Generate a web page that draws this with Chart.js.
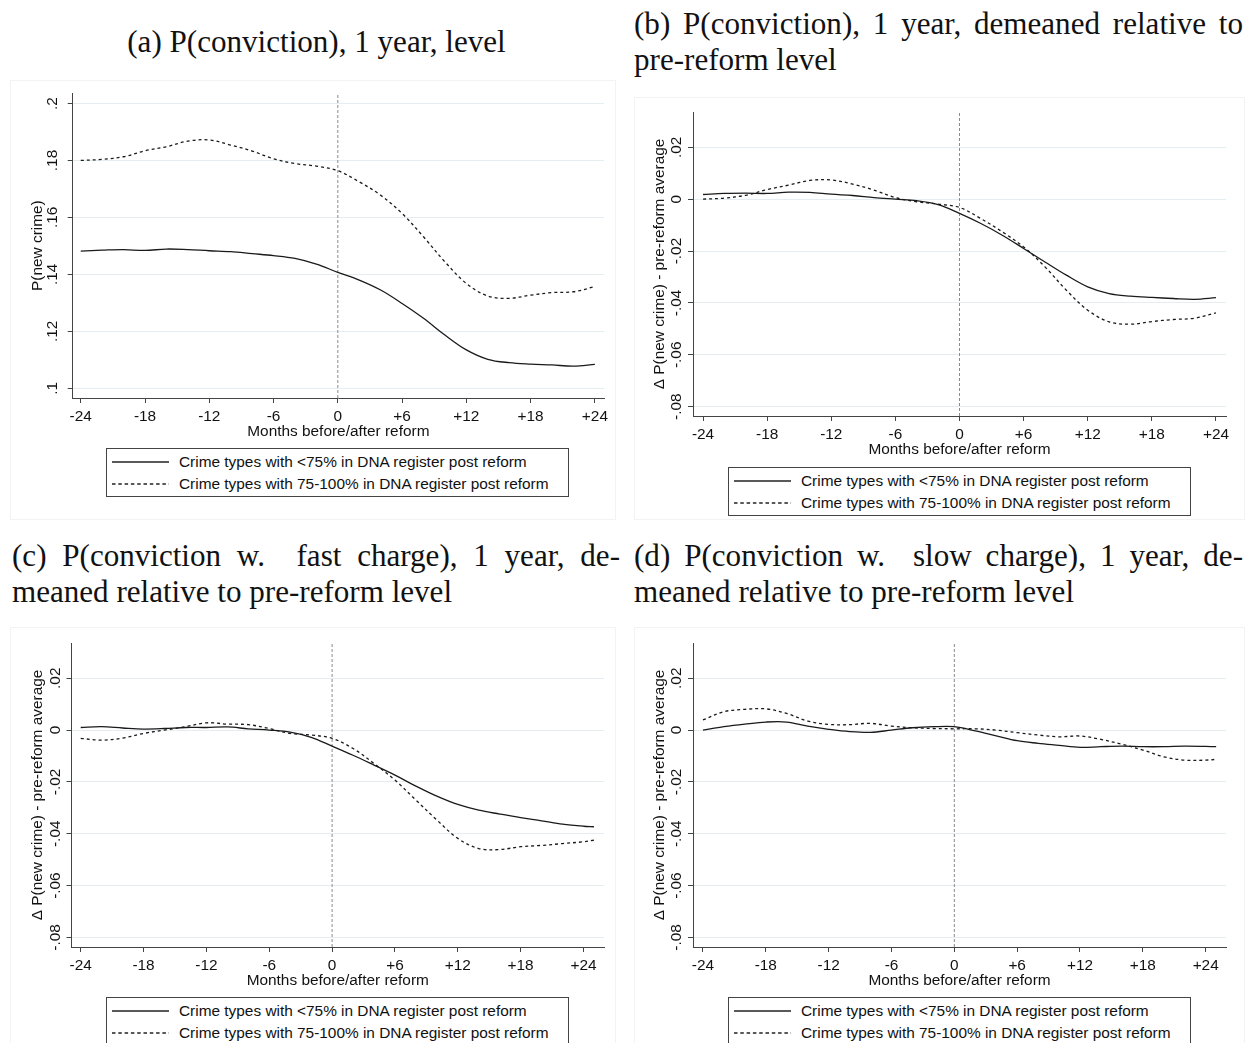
<!DOCTYPE html>
<html>
<head>
<meta charset="utf-8">
<script src="https://cdn.jsdelivr.net/npm/chart.js@4.4.0/dist/chart.umd.min.js"></script>
<style>
  html, body { margin: 0; padding: 0; background: #fff; }
  body { width: 1245px; height: 1043px; position: relative; overflow: hidden; font-family: "Liberation Sans", Arial, sans-serif; }
  .frame { position: absolute; border: 1px solid #f3f3f3; box-sizing: border-box; }
  .title { position: absolute; font-family: "Liberation Serif", "Times New Roman", serif; color: #111; white-space: nowrap; height: 36px; line-height: 36px; }
  .title.just { text-align: justify; text-align-last: justify; white-space: normal; }
  canvas { position: absolute; }
  .legend { position: absolute; width: 463px; height: 49px; border: 1px solid #444; box-sizing: border-box; background: #fff; font-size: 15.4px; color: #111; }
  .legend .row { position: absolute; left: 5px; height: 20px; display: flex; align-items: center; white-space: nowrap; }
  .legend svg { width: 57px; height: 4px; margin-right: 10px; }
</style>
</head>
<body>

<div class="frame" style="left:10px;top:80px;width:606px;height:440px"></div>
<div class="frame" style="left:634px;top:97px;width:611px;height:423px"></div>
<div class="frame" style="left:10px;top:627px;width:606px;height:420px"></div>
<div class="frame" style="left:634px;top:627px;width:611px;height:420px"></div>

<div class="title" style="left:10px;top:24px;width:613px;text-align:center">(a) P(conviction), 1 year, level</div>
<div class="title just" style="left:634px;top:6px;width:609px">(b) P(conviction), 1 year, demeaned relative to</div>
<div class="title" style="left:634px;top:42px">pre-reform level</div>
<div class="title just" style="left:12px;top:538px;width:608px">(c) P(conviction w.&nbsp; fast charge), 1 year, de-</div>
<div class="title" style="left:12px;top:574px">meaned relative to pre-reform level</div>
<div class="title just" style="left:634px;top:538px;width:609px">(d) P(conviction w.&nbsp; slow charge), 1 year, de-</div>
<div class="title" style="left:634px;top:574px">meaned relative to pre-reform level</div>

<canvas id="chartA" width="605" height="362" style="left:10px;top:80px"></canvas>
<canvas id="chartB" width="605" height="362" style="left:632px;top:98px"></canvas>
<canvas id="chartC" width="605" height="363" style="left:10px;top:628px"></canvas>
<canvas id="chartD" width="605" height="363" style="left:632px;top:628px"></canvas>

<div id="legendA" class="legend" style="left:106px;top:448px"></div>
<div id="legendB" class="legend" style="left:728px;top:467px"></div>
<div id="legendC" class="legend" style="left:106px;top:997px"></div>
<div id="legendD" class="legend" style="left:728px;top:997px"></div>

<script>
// months relative to the reform
const monthsAB = [-24, -22, -20, -18, -16, -14, -12, -10, -8, -6, -4, -2, 0, 2, 4, 6, 8, 10, 12, 14, 16, 18, 20, 22, 24];
const monthsCD = [-24, -22, -20, -18, -16, -14, -12, -10, -8, -6, -4, -2, 0, 2, 4, 6, 8, 10, 12, 14, 16, 18, 20, 22, 24, 25];

const xTicks = [-24, -18, -12, -6, 0, 6, 12, 18, 24];
const xTickLabels = ['-24', '-18', '-12', '-6', '0', '+6', '+12', '+18', '+24'];

const yTicksLevel = [0.1, 0.12, 0.14, 0.16, 0.18, 0.2];
const yLabelsLevel = ['.1', '.12', '.14', '.16', '.18', '.2'];
const yTicksDemeaned = [-0.08, -0.06, -0.04, -0.02, 0, 0.02];
const yLabelsDemeaned = ['-.08', '-.06', '-.04', '-.02', '0', '.02'];

const seriesNames = ['Crime types with <75% in DNA register post reform', 'Crime types with 75-100% in DNA register post reform'];

// (a) level
const aLow = [0.1482, 0.1485, 0.1487, 0.1484, 0.1489, 0.1487, 0.1483, 0.1480, 0.1473, 0.1466, 0.1456, 0.1436, 0.1407, 0.1380, 0.1345, 0.1298, 0.1246, 0.1187, 0.1135, 0.1102, 0.1090, 0.1085, 0.1082, 0.1078, 0.1084];
const aHigh = [0.1800, 0.1804, 0.1813, 0.1834, 0.1848, 0.1868, 0.1872, 0.1854, 0.1833, 0.1806, 0.1789, 0.1780, 0.1764, 0.1725, 0.1678, 0.1614, 0.1532, 0.1444, 0.1368, 0.1324, 0.1316, 0.1327, 0.1336, 0.1339, 0.1357];
// (b) demeaned
const bLow = [0.0018, 0.0022, 0.0023, 0.0022, 0.0027, 0.0026, 0.0019, 0.0014, 0.0006, 0.0000, -0.0006, -0.0021, -0.0055, -0.0094, -0.0139, -0.0190, -0.0242, -0.0293, -0.0338, -0.0364, -0.0374, -0.0379, -0.0383, -0.0386, -0.0380];
const bHigh = [0.0000, 0.0004, 0.0015, 0.0037, 0.0054, 0.0072, 0.0074, 0.0058, 0.0035, 0.0006, -0.0010, -0.0019, -0.0032, -0.0075, -0.0126, -0.0184, -0.0261, -0.0351, -0.0428, -0.0473, -0.0482, -0.0472, -0.0464, -0.0459, -0.0438];
// (c) fast charge
const cLow = [0.0010, 0.0013, 0.0008, 0.0004, 0.0006, 0.0010, 0.0010, 0.0012, 0.0005, 0.0000, -0.0008, -0.0028, -0.0062, -0.0097, -0.0135, -0.0174, -0.0216, -0.0255, -0.0287, -0.0309, -0.0324, -0.0338, -0.0350, -0.0363, -0.0371, -0.0373];
const cHigh = [-0.0032, -0.0039, -0.0031, -0.0013, 0.0000, 0.0013, 0.0028, 0.0023, 0.0021, 0.0006, -0.0013, -0.0019, -0.0032, -0.0071, -0.0129, -0.0193, -0.0270, -0.0347, -0.0418, -0.0457, -0.0461, -0.0450, -0.0445, -0.0438, -0.0431, -0.0425];
// (d) slow charge
const dLow = [0.0000, 0.0013, 0.0023, 0.0031, 0.0031, 0.0015, 0.0003, -0.0006, -0.0009, 0.0000, 0.0009, 0.0013, 0.0013, -0.0003, -0.0022, -0.0041, -0.0051, -0.0059, -0.0067, -0.0064, -0.0062, -0.0064, -0.0064, -0.0062, -0.0063, -0.0064];
const dHigh = [0.0039, 0.0071, 0.0080, 0.0082, 0.0064, 0.0035, 0.0022, 0.0021, 0.0026, 0.0015, 0.0009, 0.0006, 0.0005, 0.0005, 0.0000, -0.0010, -0.0019, -0.0026, -0.0023, -0.0036, -0.0055, -0.0077, -0.0103, -0.0116, -0.0116, -0.0113];

const FONT = '"Liberation Sans", Arial, sans-serif';
const FS = 15.4;
const INK = '#111';
const AXIS = '#444';
const GRID = '#e4edef';

// fit the serif titles to the width of the typeset original
(function sizeTitles() {
  const c = document.createElement('canvas').getContext('2d');
  c.font = '100px "Liberation Serif"';
  const w = c.measureText('meaned relative to pre-reform level').width;
  const size = 100 * 440 / w;
  document.querySelectorAll('.title').forEach((el) => { el.style.fontSize = size.toFixed(2) + 'px'; });
})();

function buildLegend(id) {
  const box = document.getElementById(id);
  const dashes = ['', '3.5,2.8'];
  const tops = [3, 25];
  seriesNames.forEach((name, i) => {
    const row = document.createElement('div');
    row.className = 'row';
    row.style.top = tops[i] + 'px';
    row.innerHTML = `<svg viewBox="0 0 57 4"><line x1="0" y1="2" x2="57" y2="2" stroke="#222" stroke-width="1.3" stroke-dasharray="${dashes[i]}"/></svg><span>${name}</span>`;
    box.appendChild(row);
  });
}

function toPoints(months, values) {
  return months.map((m, i) => ({ x: m, y: values[i] }));
}

function makeChart(p) {
  const ctx = document.getElementById(p.id).getContext('2d');
  return new Chart(ctx, {
    type: 'line',
    data: {
      datasets: [
        {
          label: seriesNames[0],
          data: toPoints(p.months, p.low),
          borderColor: '#1a1a1a',
          borderWidth: 1.3,
          pointRadius: 0,
          tension: 0.35,
        },
        {
          label: seriesNames[1],
          data: toPoints(p.months, p.high),
          borderColor: '#1a1a1a',
          borderWidth: 1.3,
          borderDash: [3, 3],
          pointRadius: 0,
          tension: 0.35,
        },
        {
          label: 'reform',
          data: [{ x: 0, y: p.yMin }, { x: 0, y: p.yMax }],
          borderColor: '#8a8a8a',
          borderWidth: 1,
          borderDash: [3, 2],
          pointRadius: 0,
        },
      ],
    },
    options: {
      responsive: false,
      animation: false,
      events: [],
      layout: { padding: { top: p.padTop, right: p.padRight, left: 0, bottom: 0 } },
      plugins: { legend: { display: false }, tooltip: { enabled: false } },
      scales: {
        x: {
          type: 'linear',
          min: p.xMin,
          max: p.xMax,
          afterBuildTicks: (s) => { s.ticks = xTicks.map((v) => ({ value: v })); },
          afterFit: (s) => { s.height = 44; },
          ticks: {
            callback: (v, i) => xTickLabels[i],
            autoSkip: false,
            maxRotation: 0,
            minRotation: 0,
            padding: 5,
            color: INK,
            font: { family: FONT, size: FS },
          },
          grid: { drawOnChartArea: false, drawTicks: true, tickLength: 5, tickColor: AXIS },
          border: { color: AXIS, width: 1 },
          title: {
            display: true,
            text: 'Months before/after reform',
            color: INK,
            font: { family: FONT, size: FS },
            padding: { top: 0, bottom: 1 },
          },
        },
        y: {
          type: 'linear',
          min: p.yMin,
          max: p.yMax,
          afterBuildTicks: (s) => { s.ticks = p.yTicks.map((v) => ({ value: v })); },
          afterFit: (s) => { s.width = p.yWidth; },
          ticks: {
            callback: (v, i) => p.yLabels[i],
            minRotation: 90,
            maxRotation: 90,
            crossAlign: 'center',
            padding: p.yTickPad,
            color: INK,
            font: { family: FONT, size: FS },
          },
          grid: { color: GRID, lineWidth: 1, drawTicks: true, tickLength: 5, tickColor: AXIS },
          border: { color: AXIS, width: 1 },
          title: {
            display: true,
            text: p.yTitle,
            color: INK,
            font: { family: FONT, size: FS },
            padding: { top: 18.8, bottom: 0 },
          },
        },
      },
    },
  });
}

const demeanedTitle = '\u0394 P(new crime) - pre-reform average';

makeChart({ id: 'chartA', months: monthsAB, low: aLow, high: aHigh, xMin: -24.75, xMax: 24.85, yMin: 0.0966, yMax: 0.2036,
  yTicks: yTicksLevel, yLabels: yLabelsLevel, yTitle: 'P(new crime)', yWidth: 62.7, padTop: 13, padRight: 11, yTickPad: 4 });
makeChart({ id: 'chartB', months: monthsAB, low: bLow, high: bHigh, xMin: -24.94, xMax: 24.94, yMin: -0.0836, yMax: 0.0336,
  yTicks: yTicksDemeaned, yLabels: yLabelsDemeaned, yTitle: demeanedTitle, yWidth: 61, padTop: 14, padRight: 11, yTickPad: -2.3 });
makeChart({ id: 'chartC', months: monthsCD, low: cLow, high: cHigh, xMin: -24.88, xMax: 25.96, yMin: -0.0837, yMax: 0.0336,
  yTicks: yTicksDemeaned, yLabels: yLabelsDemeaned, yTitle: demeanedTitle, yWidth: 61.5, padTop: 15, padRight: 11, yTickPad: -2.3 });
makeChart({ id: 'chartD', months: monthsCD, low: dLow, high: dHigh, xMin: -24.95, xMax: 25.94, yMin: -0.0837, yMax: 0.0336,
  yTicks: yTicksDemeaned, yLabels: yLabelsDemeaned, yTitle: demeanedTitle, yWidth: 61, padTop: 15, padRight: 11, yTickPad: -2.3 });

['legendA', 'legendB', 'legendC', 'legendD'].forEach(buildLegend);
</script>
</body>
</html>
